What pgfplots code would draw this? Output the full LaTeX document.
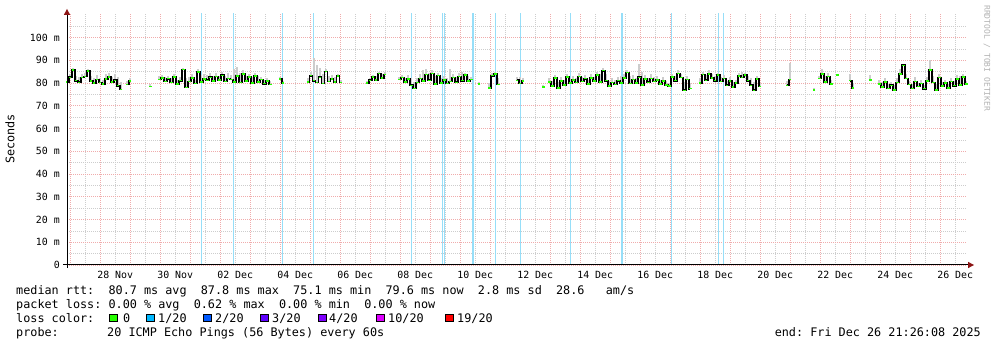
\documentclass[border=0pt]{standalone}
\usepackage{fontspec}
\setmainfont{DejaVu Sans}
\setmonofont{DejaVu Sans Mono}[WordSpace={1,0,0}]
\usepackage{pgfplots}
\pgfplotsset{compat=1.18}
\usepackage{pgfplotstable}
\usetikzlibrary{arrows.meta}

\definecolor{lossok}{HTML}{26FF00}
\definecolor{lossa}{HTML}{00B8FF}
\definecolor{lossb}{HTML}{0059FF}
\definecolor{lossc}{HTML}{5E00FF}
\definecolor{lossd}{HTML}{7E00FF}
\definecolor{losse}{HTML}{DD00FF}
\definecolor{lossf}{HTML}{FF0000}
\definecolor{lossbg}{RGB}{150,222,248}
\definecolor{mgridc}{RGB}{240,172,172}
\definecolor{gridc}{RGB}{205,205,205}
\definecolor{smoke}{RGB}{205,205,205}
\definecolor{arrowred}{RGB}{140,20,20}

\newcommand\lfont{\ttfamily\fontsize{11.8}{12}\selectfont}

% t = days since 0 Nov 2025 (Dec d = 30+d); m = median rtt (ms); h = smoke top (ms)
\pgfplotstableread{
t m h
26.90 80.4 82.0
27.00 82.5 84.0
27.10 85.8 86.5
27.20 81.0 83.0
27.30 80.3 82.5
27.40 82.4 84.0
27.50 82.8 84.5
27.60 85.2 86.0
27.70 80.9 83.0
27.80 80.1 82.0
27.90 81.6 83.5
28.00 80.2 82.0
28.10 79.5 81.5
28.20 81.8 84.0
28.30 82.6 84.5
28.40 80.4 82.5
28.50 81.2 84.0
28.60 78.8 82.5
28.70 77.2 80.5
28.80 nan nan
28.90 79.4 81.0
29.00 80.8 82.0
29.30 nan nan
29.67 78.5 79.5
29.80 nan nan
29.97 81.5 83.0
30.07 82.3 83.5
30.17 80.6 82.5
30.27 81.9 83.0
30.37 80.2 82.0
30.47 82.7 84.0
30.57 79.6 81.5
30.67 81.0 82.5
30.77 85.9 86.5
30.87 78.0 82.0
30.97 80.6 82.5
31.07 82.2 84.0
31.17 79.8 81.5
31.27 84.8 86.0
31.37 80.5 83.5
31.47 81.8 84.0
31.57 81.2 83.5
31.67 82.5 84.5
31.77 80.9 83.0
31.87 82.8 84.5
31.97 81.4 83.0
32.07 83.4 85.0
32.17 80.6 83.0
32.27 82.0 84.5
32.37 81.5 83.5
32.47 80.4 86.0
32.57 83.1 87.0
32.67 80.2 84.5
32.77 84.0 85.5
32.87 80.8 83.0
32.97 82.6 84.0
33.07 79.9 82.5
33.17 83.0 84.5
33.27 80.5 83.0
33.37 81.6 82.5
33.47 79.7 81.5
33.57 80.9 82.0
33.67 79.3 81.0
33.80 nan nan
34.00 81.8 82.5
34.10 80.0 81.0
34.50 nan nan
34.93 80.5 82.0
35.03 83.2 85.0
35.13 81.0 91.0
35.23 80.2 88.0
35.33 82.5 86.5
35.43 79.8 84.0
35.53 85.0 86.0
35.63 80.6 83.0
35.73 81.8 83.5
35.83 80.4 82.5
35.93 83.0 84.0
36.03 80.2 81.5
36.50 nan nan
36.90 80.0 81.0
37.00 81.2 82.0
37.10 82.6 83.5
37.20 81.4 83.0
37.30 84.2 85.0
37.40 82.3 84.0
37.50 83.8 85.0
37.70 nan nan
37.97 81.6 82.5
38.07 82.4 83.5
38.17 80.5 82.0
38.27 81.8 83.5
38.37 79.0 82.0
38.47 77.6 80.5
38.57 80.2 82.0
38.67 82.0 84.0
38.77 80.9 85.5
38.87 83.8 86.0
38.97 81.2 84.5
39.07 84.2 85.5
39.17 79.6 83.0
39.27 83.3 84.5
39.37 80.1 82.0
39.47 81.4 83.0
39.57 79.8 82.0
39.67 80.6 86.0
39.77 82.4 84.0
39.87 80.3 82.5
39.97 82.9 84.5
40.07 81.0 85.0
40.17 83.5 84.5
40.27 80.8 83.0
40.37 81.6 82.5
40.50 nan nan
40.63 79.5 80.5
40.80 nan nan
40.97 77.8 80.0
41.07 83.2 84.5
41.17 84.0 85.0
41.27 79.3 82.0
41.60 nan nan
41.90 81.2 82.5
42.00 79.8 82.5
42.10 80.9 82.0
42.40 nan nan
42.77 78.2 79.0
42.87 nan nan
42.97 80.5 82.0
43.07 78.6 81.0
43.17 82.2 83.5
43.27 77.8 80.5
43.37 80.9 82.5
43.47 79.2 81.5
43.57 82.6 84.0
43.67 80.0 82.0
43.77 81.4 83.0
43.87 80.2 82.0
43.97 82.8 84.5
44.07 80.6 82.5
44.17 81.9 83.5
44.27 79.5 81.5
44.37 82.3 84.0
44.47 80.8 82.5
44.57 83.6 85.0
44.67 80.4 84.0
44.77 85.4 86.5
44.87 81.0 84.0
44.97 78.6 81.0
45.07 80.2 82.0
45.17 79.4 81.5
45.27 81.0 82.5
45.37 80.1 83.0
45.47 82.3 84.0
45.57 84.6 85.5
45.67 79.8 83.0
45.77 81.6 83.5
45.87 80.0 82.0
45.97 82.5 88.5
46.07 79.2 85.0
46.17 81.8 83.5
46.27 80.3 82.0
46.37 82.0 84.0
46.47 80.6 82.5
46.57 81.4 83.0
46.67 79.6 81.5
46.77 80.8 82.5
46.87 79.2 81.0
46.97 78.6 80.0
47.07 82.6 84.0
47.17 81.0 83.0
47.27 84.2 85.5
47.37 82.4 84.0
47.47 76.8 80.5
47.57 81.5 83.0
47.67 77.5 80.0
47.85 nan nan
48.00 80.0 82.0
48.10 83.8 85.0
48.20 81.2 83.5
48.30 84.0 85.5
48.40 82.2 84.0
48.50 81.0 83.0
48.60 83.5 84.5
48.70 80.6 82.5
48.80 82.0 83.5
48.90 79.0 81.0
49.00 80.8 82.5
49.10 78.2 80.5
49.20 80.0 81.5
49.30 83.0 84.5
49.40 82.4 85.0
49.50 83.6 84.5
49.60 81.0 83.0
49.70 79.0 82.0
49.80 76.8 80.5
49.90 81.8 83.0
50.00 78.5 80.0
50.50 nan nan
50.90 79.0 81.0
51.00 81.6 89.0
51.40 nan nan
51.80 77.0 78.0
51.90 nan nan
51.97 82.0 83.0
52.07 84.0 86.0
52.17 80.5 83.0
52.27 82.8 84.5
52.37 79.6 81.5
52.47 nan nan
52.57 83.5 84.0
52.80 nan nan
53.00 81.0 84.0
53.10 77.8 80.0
53.40 nan nan
53.67 81.3 83.5
53.80 nan nan
53.97 79.5 81.5
54.07 78.2 80.5
54.17 80.4 82.0
54.27 77.6 79.5
54.37 79.0 80.5
54.47 77.0 79.0
54.57 80.2 82.0
54.67 84.0 86.0
54.77 87.8 88.5
54.87 82.0 84.0
54.97 79.4 81.0
55.07 77.6 79.5
55.17 80.6 82.5
55.27 78.4 80.0
55.37 79.8 81.5
55.47 77.5 79.0
55.57 80.9 82.5
55.67 85.8 90.0
55.77 80.2 83.0
55.87 77.0 79.5
55.97 82.4 84.0
56.07 78.6 80.5
56.17 80.0 81.5
56.27 77.8 79.5
56.37 80.6 82.0
56.47 78.8 81.0
56.57 81.8 83.5
56.67 79.2 83.0
56.77 82.6 84.0
56.87 79.6 81.0
}\rtt

\begin{document}
\begin{tikzpicture}[x=1pt,y=1pt]
\path[use as bounding box] (0,0) rectangle (997,347);
\begin{axis}[
  at={(67pt,82pt)}, anchor=south west,
  scale only axis, width=900pt, height=251.6pt,
  xmin=26.893, xmax=56.893, ymin=0, ymax=110.6,
  axis line style={draw=none},
  major tick length=0pt, minor tick length=0pt,
  xtick={27,28,...,56}, xticklabels={},
  minor xtick={27.5,28.5,...,56.5},
  extra x ticks={28.5,30.5,...,56.5},
  extra x tick labels={28 Nov,30 Nov,02 Dec,04 Dec,06 Dec,08 Dec,10 Dec,12 Dec,14 Dec,16 Dec,18 Dec,20 Dec,22 Dec,24 Dec,26 Dec},
  extra x tick style={grid=none},
  ytick={0,10,...,100},
  yticklabels={0,10 m,20 m,30 m,40 m,50 m,60 m,70 m,80 m,90 m,100 m},
  minor ytick={5,15,...,105},
  grid=both,
  major grid style={draw=mgridc, line width=0.6pt, dash pattern=on 1pt off 1pt},
  minor grid style={draw=gridc, line width=0.6pt, dash pattern=on 1pt off 1pt},
  tick label style={font=\ttfamily\fontsize{9.9}{10}\selectfont, text=black},
  xticklabel style={anchor=north, inner sep=0pt, yshift=-6pt},
  yticklabel style={anchor=east, inner sep=0pt, xshift=-7pt},
  unbounded coords=jump,
]
% loss (1/20) background lines
\addplot[ycomb, draw=lossbg, line width=1.3pt, mark=none] coordinates {
(31.377,110.6) (32.443,110.6) (34.077,110.6) (35.110,110.6) (38.367,110.6)
(39.400,110.6) (39.477,110.6) (40.423,110.6) (41.177,110.6) (42.000,110.6)
(43.667,110.6) (45.390,110.6) (47.033,110.6) (48.600,110.6) (48.767,110.6)};
% smoke
\addplot[draw=none, mark=none,
  error bars/.cd, y dir=plus, y explicit, error mark=none,
  error bar style={draw=smoke, line width=1.8pt}]
  table[x=t, y=m, y error expr=\thisrow{h}-\thisrow{m}] {\rtt};
% median
\addplot[const plot mark mid, black, line width=1.7pt, mark=none] table[x=t, y=m] {\rtt};
\addplot[only marks, mark=-, mark size=1.2pt, mark options={draw=lossok, line width=1.5pt}] table[x=t, y=m] {\rtt};
\end{axis}
% axes
\draw[black, line width=1pt] (67,79) -- (67,334);
\fill[arrowred] (67,338) -- (63.8,332) -- (70.2,332) -- cycle;
\draw[black, line width=1pt] (63,82) -- (969,82);
\fill[arrowred] (974,82) -- (968,78.8) -- (968,85.2) -- cycle;
% texts
\node[rotate=90, font=\lfont] at (10,208) {Seconds};
\node[rotate=-90, anchor=west, inner sep=0pt, font=\ttfamily\fontsize{8}{8}\selectfont, text=black!30] at (987,342) {RRDTOOL / TOBI OETIKER};
\begin{scope}[every node/.style={anchor=base west, inner sep=0pt, font=\lfont}]
\node at (16,52.7) {median rtt:~ 80.7 ms avg~ 87.8 ms max~ 75.1 ms min~ 79.6 ms now~ 2.8 ms sd~ 28.6~~ am/s};
\node at (16,38.7) {packet loss: 0.00 \% avg~ 0.62 \% max~ 0.00 \% min~ 0.00 \% now};
\node at (16,24.7) {loss color:};
\node at (16,10.5) {probe:};
\node at (107,10.5) {20 ICMP Echo Pings (56 Bytes) every 60s};
\node at (123,24.7) {0};
\node at (158,24.7) {1/20};
\node at (215,24.7) {2/20};
\node at (272,24.7) {3/20};
\node at (329,24.7) {4/20};
\node at (388,24.7) {10/20};
\node at (457,24.7) {19/20};
\node[anchor=base east] at (981,10.5) {end: Fri Dec 26 21:26:08 2025};
\end{scope}
\begin{scope}[every node/.style={anchor=south west, draw=black, line width=0.7pt, minimum size=7.6pt, inner sep=0pt}]
\node[fill=lossok] at (109,25) {};
\node[fill=lossa] at (146,25) {};
\node[fill=lossb] at (203,25) {};
\node[fill=lossc] at (260,25) {};
\node[fill=lossd] at (318,25) {};
\node[fill=losse] at (376,25) {};
\node[fill=lossf] at (445,25) {};
\end{scope}
\end{tikzpicture}
\end{document}
